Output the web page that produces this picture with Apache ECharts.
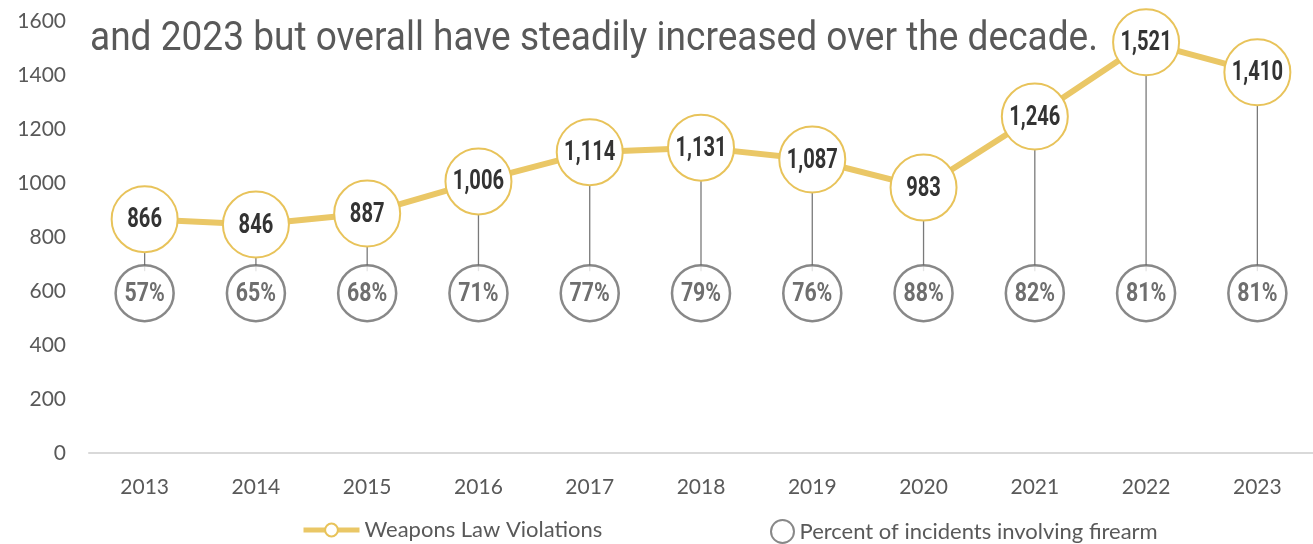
<!DOCTYPE html>
<html>
<head>
<meta charset="utf-8">
<script src="https://cdn.jsdelivr.net/npm/echarts@6/dist/echarts.min.js"></script>
<style>
html,body{margin:0;padding:0;background:#fff;}
#chart{width:1313px;height:544px;}
</style>
</head>
<body>
<div id="chart"></div>
<script>
const years = ['2013','2014','2015','2016','2017','2018','2019','2020','2021','2022','2023'];
const violations = [866, 846, 887, 1006, 1114, 1131, 1087, 983, 1246, 1521, 1410];
const percentFirearm = [57, 65, 68, 71, 77, 79, 76, 88, 82, 81, 81];
const yTicks = [0, 200, 400, 600, 800, 1000, 1200, 1400, 1600];
const subtitleLine = 'and 2023 but overall have steadily increased over the decade.';

const PCT_LEVEL = 592; // vertical level at which the percentage bubbles sit
const bodyFont = 'Lato, "Open Sans", sans-serif';
const titleFont = '41px Roboto, sans-serif';

// horizontal compression so Roboto reads like the condensed face of the original
function condenseFactor(text, font, targetWidth) {
  const ctx = document.createElement('canvas').getContext('2d');
  ctx.font = font;
  return targetWidth / ctx.measureText(text).width;
}
const titleScale = condenseFactor(subtitleLine, titleFont, 1008);

const chart = echarts.init(document.getElementById('chart'), null, {renderer: 'canvas'});

function textLabel(getText, font, fill, scaleX, yValueFn) {
  return function (params, api) {
    const idx = api.value(0);
    const p = api.coord([idx, yValueFn(api)]);
    return {
      type: 'text',
      x: p[0], y: p[1] + 1,
      scaleX: scaleX,
      style: {
        text: getText(params.dataIndex, api),
        font: font, fill: fill,
        align: 'center', verticalAlign: 'middle'
      }
    };
  };
}

const option = {
  backgroundColor: '#ffffff',
  animation: false,
  grid: {left: 89, top: 21, width: 1229, height: 432, containLabel: false},
  xAxis: {
    type: 'category',
    data: years,
    boundaryGap: true,
    axisLine: {show: true, lineStyle: {color: '#d9d9d9', width: 2}},
    axisTick: {show: false},
    axisLabel: {color: '#595959', fontSize: 21, fontFamily: bodyFont, margin: 24}
  },
  yAxis: {
    type: 'value',
    min: yTicks[0],
    max: yTicks[yTicks.length - 1],
    interval: yTicks[1] - yTicks[0],
    axisLine: {show: false},
    axisTick: {show: false},
    splitLine: {show: false},
    axisLabel: {color: '#595959', fontSize: 21, fontFamily: bodyFont, margin: 23,
                formatter: v => String(v)}
  },
  legend: [
    {
      data: ['Weapons Law Violations'],
      left: 296, top: 514,
      itemWidth: 56, itemHeight: 16,
      lineStyle: {width: 5, color: '#EAC766'},
      textStyle: {color: '#595959', fontSize: 22, fontFamily: bodyFont},
      itemGap: 4
    },
    {
      data: [{name: 'Percent of incidents involving firearm', icon: 'circle'}],
      left: 765, top: 514,
      itemWidth: 24, itemHeight: 23,
      itemStyle: {color: '#ffffff', borderColor: '#6a6a6a', borderWidth: 2},
      textStyle: {color: '#595959', fontSize: 22, fontFamily: bodyFont}
    }
  ],
  graphic: [
    {
      type: 'text',
      x: 90, y: 40,
      scaleX: titleScale,
      z: 10,
      style: {text: subtitleLine, fill: '#595959', font: titleFont, align: 'left', verticalAlign: 'middle'}
    }
  ],
  series: [
    {
      name: 'leader',
      type: 'custom',
      z: 1,
      silent: true,
      data: violations.map((v, i) => [i, v]),
      renderItem: function (params, api) {
        const p1 = api.coord([api.value(0), api.value(1)]);
        const p2 = api.coord([api.value(0), PCT_LEVEL]);
        return {
          type: 'line',
          shape: {x1: p1[0], y1: p1[1], x2: p2[0], y2: p2[1] - 22},
          style: {stroke: '#7a7a7a', lineWidth: 1.3}
        };
      }
    },
    {
      name: 'Weapons Law Violations',
      type: 'line',
      z: 3,
      data: violations,
      symbol: 'circle',
      symbolSize: 66,
      lineStyle: {color: '#EAC766', width: 6},
      itemStyle: {color: '#ffffff', borderColor: '#E8C35A', borderWidth: 2},
      label: {show: false}
    },
    {
      name: 'Percent of incidents involving firearm',
      type: 'scatter',
      z: 4,
      data: percentFirearm.map((p, i) => [i, PCT_LEVEL]),
      symbol: 'circle',
      symbolSize: [58, 56],
      itemStyle: {color: '#ffffff', borderColor: '#6a6a6a', borderWidth: 2.5},
      label: {show: false}
    },
    {
      name: 'valueLabels',
      type: 'custom',
      z: 6,
      silent: true,
      data: violations.map((v, i) => [i, v]),
      renderItem: textLabel((i) => violations[i].toLocaleString('en-US'),
        'bold 28px Roboto, sans-serif', '#333333', 0.72, api => api.value(1))
    },
    {
      name: 'percentLabels',
      type: 'custom',
      z: 6,
      silent: true,
      data: percentFirearm.map((p, i) => [i, PCT_LEVEL]),
      renderItem: textLabel((i) => percentFirearm[i] + '%',
        'bold 26px Roboto, sans-serif', '#6e6e6e', 0.82, api => api.value(1))
    }
  ]
};
chart.setOption(option);
</script>
</body>
</html>
